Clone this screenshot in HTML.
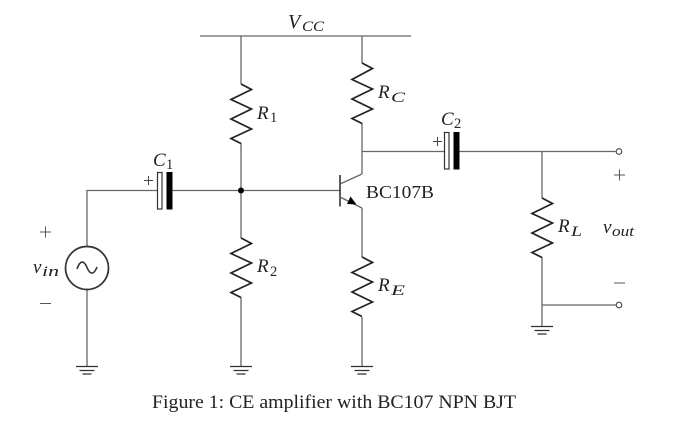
<!DOCTYPE html>
<html><head><meta charset="utf-8"><style>
html,body{margin:0;padding:0;background:#fff;width:700px;height:434px;overflow:hidden}
svg{display:block;filter:blur(0.35px)}
text{font-family:"Liberation Serif",serif;fill:#222}
.i{font-style:italic}
.w{fill:none;stroke:#666;stroke-width:1.3}
.z{fill:none;stroke:#222;stroke-width:1.7;stroke-linejoin:miter}
.g{fill:none;stroke:#333;stroke-width:1.3}
</style></head><body>
<svg width="700" height="434" viewBox="0 0 700 434" xmlns="http://www.w3.org/2000/svg">
<!-- wires -->
<path class="w" d="M200 36H411M241 36V84M362 36V63M241 143V238M241 297V366M362 123V174M362 208V257M362 317V366"/>
<path class="w" d="M87 246V190.500H157M172 190.500H340M87 290V366M362 151.500H444M459 151.500H616M542 151.500V198M542 257V326M542 305H616"/>
<!-- resistors -->
<path class="z" d="M241 84L251.500 89.500L231 99.500L251.500 109L231 119L251.500 129L231 138.500L241 143.500"/>
<path class="z" d="M362 63L372.500 68.500L352 79.500L372.500 89L352 99L372.500 109L352 118.500L362 123.500"/>
<path class="z" d="M241 238L251.500 243.500L231 253.500L251.500 263L231 273L251.500 283L231 292.500L241 297.500"/>
<path class="z" d="M362 257L372.500 262.500L352 272.500L372.500 282L352 292L372.500 302L352 311.500L362 316.500"/>
<path class="z" d="M542 198L552.500 203.500L532 213.500L552.500 223L532 233L552.500 243L532 252.500L542 257.500"/>
<!-- capacitors -->
<rect x="157.500" y="172.500" width="4.500" height="36.500" fill="#fff" stroke="#333" stroke-width="1.2"/>
<rect x="166.500" y="172" width="6" height="37.500" fill="#000"/>
<rect x="444.500" y="132.500" width="4.500" height="36.500" fill="#fff" stroke="#333" stroke-width="1.2"/>
<rect x="453.500" y="132" width="6" height="37.500" fill="#000"/>
<!-- junction -->
<circle cx="241" cy="190.500" r="3" fill="#000"/>
<!-- transistor -->
<path d="M340 175V206.500" fill="none" stroke="#333" stroke-width="1.6"/>
<path class="w" d="M340 184L362 174M340 197L362 208"/>
<path d="M347 204L350.500 196.500L356.500 204.500Z" fill="#000"/>
<!-- source -->
<circle cx="87" cy="268" r="21.500" fill="#fff" stroke="#333" stroke-width="1.7"/>
<path d="M77 269C80 260 84 260 87 267.500C90 275 94 275 97 267" fill="none" stroke="#333" stroke-width="1.6"/>
<!-- grounds -->
<path class="g" d="M76 366.500H98M79.500 370.500H94.500M82.500 374H91.500"/>
<path class="g" d="M230 366.500H252M233.500 370.500H248.500M236.500 374H245.500"/>
<path class="g" d="M351 366.500H373M354.500 370.500H369.500M357.500 374H366.500"/>
<path class="g" d="M531 326.500H553M534.500 330.500H549.500M537.500 334H546.500"/>
<!-- terminals -->
<circle cx="619" cy="151.500" r="2.800" fill="#fff" stroke="#444" stroke-width="1.100"/>
<circle cx="619" cy="305" r="2.800" fill="#fff" stroke="#444" stroke-width="1.100"/>
<!-- plus/minus marks -->
<path d="M614 175H625M619.500 169.500V180.500M40 232H51M45.500 226.500V237.500M40 303.500H51M614 283H625" fill="none" stroke="#555" stroke-width="1"/>
<path d="M144 180.500H153M148.500 176V185M433 141.500H442M437.500 137V146" fill="none" stroke="#444" stroke-width="1"/>
<!-- labels -->
<text x="288" y="28" class="i" font-size="20">V</text><text x="302" y="31" class="i" font-size="15" textLength="22" lengthAdjust="spacingAndGlyphs">CC</text>
<text x="257" y="119" class="i" font-size="19">R</text><text x="270" y="122" font-size="14.500">1</text>
<text x="378" y="98" class="i" font-size="19">R</text><text x="391" y="102" class="i" font-size="15" textLength="14" lengthAdjust="spacingAndGlyphs">C</text>
<text x="257" y="272" class="i" font-size="19">R</text><text x="270" y="276" font-size="14.500">2</text>
<text x="378" y="291" class="i" font-size="19">R</text><text x="391" y="295" class="i" font-size="15" textLength="14" lengthAdjust="spacingAndGlyphs">E</text>
<text x="558" y="232" class="i" font-size="19">R</text><text x="571" y="236" class="i" font-size="15" textLength="11" lengthAdjust="spacingAndGlyphs">L</text>
<text x="153" y="166" class="i" font-size="19">C</text><text x="166" y="169" font-size="14.500">1</text>
<text x="441" y="125" class="i" font-size="19">C</text><text x="454" y="128" font-size="14.500">2</text>
<text x="366" y="198" font-size="18" textLength="68" lengthAdjust="spacingAndGlyphs">BC107B</text>
<text x="33" y="273" class="i" font-size="19">v</text><text x="42" y="276" class="i" font-size="14.500" textLength="17" lengthAdjust="spacingAndGlyphs">in</text>
<text x="603" y="233" class="i" font-size="19">v</text><text x="612" y="236" class="i" font-size="14.500" textLength="22" lengthAdjust="spacingAndGlyphs">out</text>
<text x="152" y="408" font-size="18.500" textLength="364" lengthAdjust="spacingAndGlyphs">Figure 1: CE amplifier with BC107 NPN BJT</text>
</svg>
</body></html>
